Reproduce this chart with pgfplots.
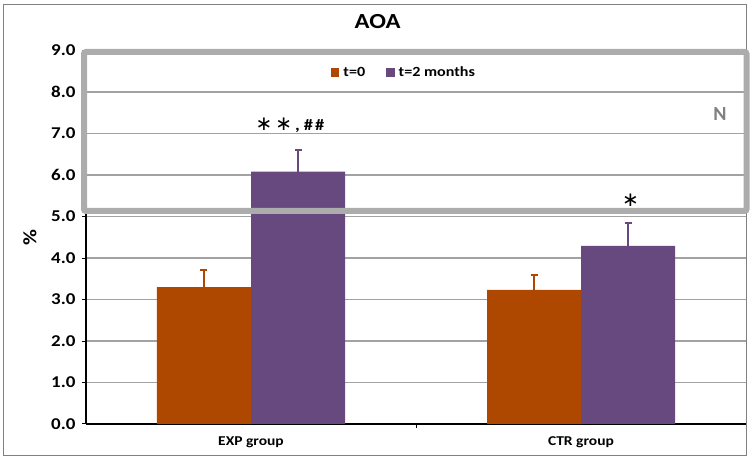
\documentclass[border=0pt]{standalone}
\usepackage{pgfplots}
\pgfplotsset{compat=1.18}
\usepackage{fontspec}
\setmainfont{Carlito}[FakeStretch=1.15]
\newfontfamily\plainfont{Carlito}
\newfontfamily\symfont{DejaVu Sans}
\definecolor{cOrange}{RGB}{174,72,0}
\definecolor{cPurple}{RGB}{103,73,128}
\definecolor{cGrid}{RGB}{162,162,162}
\definecolor{cBox}{RGB}{172,172,172}
\definecolor{cFrame}{RGB}{128,128,128}
\begin{document}
\begin{tikzpicture}
\useasboundingbox (0,0) rectangle (756pt,461pt);
\draw[cFrame, line width=0.9pt] (3pt,6pt) rectangle (746pt,457pt);
\begin{axis}[
  at={(86pt,37pt)}, anchor=south west,
  scale only axis, width=660pt, height=373.5pt,
  xmin=-0.5, xmax=1.5, ymin=0, ymax=9,
  ybar=0pt, bar width=94pt,
  axis x line*=bottom, axis y line*=left,
  axis line style={black, line width=1.2pt},
  xtick={0,1}, xticklabels={EXP group, CTR group},
  major x tick style={draw=none},
  minor xtick={0.5},
  minor x tick style={black, line width=1pt},
  minor tick length=4pt,
  tick align=outside, major tick length=4pt,
  ytick={0,1,...,9},
  y tick style={black, line width=1pt},
  ymajorgrids, grid style={cGrid, line width=1.3pt},
  /pgf/number format/assume math mode=true,
  yticklabel style={/pgf/number format/.cd, fixed, fixed zerofill, precision=1, /tikz/.cd, font=\fontsize{16.5}{18}\selectfont\bfseries, xshift=-3pt},
  xticklabel style={font=\fontsize{13.5}{15}\selectfont\bfseries, yshift=-4.8pt},
  ylabel={\%},
  ylabel style={at={(axis description cs:-0.085,0.5)}, anchor=center, font=\fontsize{19}{21}\selectfont\bfseries},
  title={AOA},
  title style={at={(axis description cs:0.442,1.043)}, anchor=base, font=\fontsize{21.5}{24}\selectfont\bfseries},
  legend columns=2,
  legend style={at={(0.3708,0.9406)}, anchor=west, draw=none, fill=none, inner sep=0pt, font=\fontsize{14}{16}\selectfont\bfseries, /tikz/every even column/.append style={column sep=19pt}, /tikz/every odd column/.append style={column sep=2pt}},
  legend image code/.code={\fill[#1] (0pt,-4.25pt) rectangle (8.5pt,4.25pt);},
  error bars/y dir=plus, error bars/y explicit,
]
\addplot[fill=cOrange, draw=none, error bars/error bar style={cOrange, line width=2pt}, error bars/error mark options={cOrange, rotate=90, mark size=3.5pt, line width=2pt}]
  coordinates {(0,3.30) +- (0,0.41) (1,3.23) +- (0,0.36)};
\addlegendentry{t=0}
\addplot[fill=cPurple, draw=none, error bars/error bar style={cPurple, line width=2pt}, error bars/error mark options={cPurple, rotate=90, mark size=3.5pt, line width=2pt}]
  coordinates {(0,6.08) +- (0,0.52) (1,4.29) +- (0,0.56)};
\addlegendentry{t=2 months}
\node[font=\fontsize{20}{22}\selectfont\bfseries, text=cFrame] at (axis description cs:0.9606,0.830) {\plainfont\bfseries N};
\node[anchor=center] at (axis cs:0.118,7.2) {{\symfont\fontsize{20}{22}\selectfont ∗\kern3pt∗}{\fontsize{16}{18}\selectfont\bfseries\kern3pt,\kern4pt\#\kern2pt\#}};
\node[anchor=center] at (axis cs:1.15,5.40) {\symfont\fontsize{20}{22}\selectfont ∗};
\end{axis}
\draw[cBox, line width=6pt, rounded corners=2pt] (84pt,250pt) rectangle (746.5pt,409pt);
\end{tikzpicture}
\end{document}
